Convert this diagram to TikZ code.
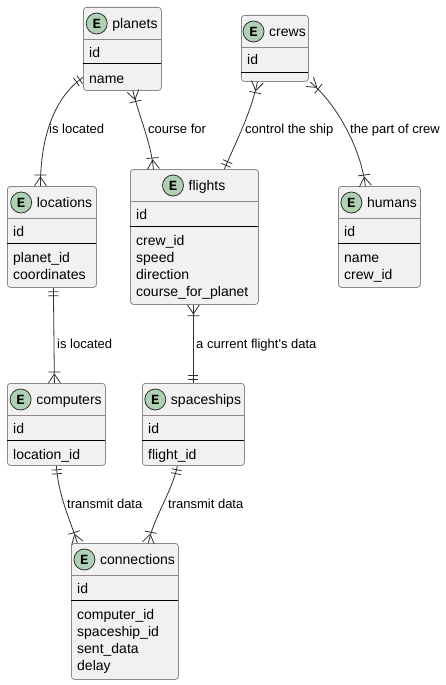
\documentclass[tikz,border=0pt]{standalone}
\usepackage{fontspec}
\setmainfont{Liberation Sans}
\newfontfamily\emono{Liberation Mono}
\usetikzlibrary{decorations.markings,calc}
\definecolor{boxfill}{HTML}{F1F1F1}
\definecolor{boxline}{HTML}{8A8A8A}
\definecolor{egreen}{HTML}{ADD1B2}
\definecolor{lnk}{HTML}{303030}
\tikzset{
  entbox/.style={draw=boxline, fill=boxfill, line width=0.8pt, rounded corners=3pt, inner sep=0pt},
  sepline/.style={draw=boxline, line width=0.8pt},
  idsep/.style={draw=black, line width=1pt},
  ecirc/.style={circle, draw=lnk, fill=egreen, line width=0.8pt, minimum size=21pt, inner sep=0pt, font=\emono\bfseries\fontsize{14}{14}\selectfont},
  etitle/.style={font=\fontsize{14}{16}\selectfont, inner sep=0pt},
  efield/.style={anchor=base west, font=\fontsize{14}{16}\selectfont, inner sep=0pt},
  rlabel/.style={anchor=base west, font=\fontsize{13}{15}\selectfont, inner sep=0pt},
  link/.style={draw=lnk, line width=0.8pt},
  crowS/.style={postaction={decorate, decoration={markings, mark=at position 0 with {\draw[link] (9,0) -- (0,6) (9,0) -- (0,-6) (11,-6) -- (11,6);}}}},
  crowE/.style={postaction={decorate, decoration={markings, mark=at position 0.99999 with {\draw[link] (-9,0) -- (0,6) (-9,0) -- (0,-6) (-11,-6) -- (-11,6);}}}},
  oneS/.style={postaction={decorate, decoration={markings, mark=at position 0 with {\draw[link] (4,-5) -- (4,5) (8,-5) -- (8,5);}}}},
  oneE/.style={postaction={decorate, decoration={markings, mark=at position 0.99999 with {\draw[link] (-4,-5) -- (-4,5) (-8,-5) -- (-8,5);}}}},
}
% #1 name, #2 left, #3 top, #4 width, #5 height, #6 title
\newcommand\erentity[6]{%
  \node[entbox, anchor=north west, minimum width=#4pt, minimum height=#5pt] (#1) at (#2,#3) {};
  \draw[sepline] (#2,#3+32) -- (#2+#4,#3+32);
  \draw[idsep] (#2,#3+57) -- (#2+#4,#3+57);
  \node[etitle, anchor=base] (#1-t) at (#2+#4/2+13,#3+21.5) {#6};
  \node[ecirc] (#1-c) at ($(#1-t.base west)+(-15.5,-5)$) {E};
  \node[efield] (#1-id) at (#2+6,#3+50) {id};
}
% #1 name, #2 left, #3 top, #4 list
\newcommand\erfields[4]{%
  \foreach \fld [count=\i] in {#4} {\node[efield] (#1-f\i) at (#2+6,#3+76+17.3*\i-17.3) {\fld};}
}
\begin{document}
\begin{tikzpicture}[x=1pt,y=-1pt]
\useasboundingbox (0,0) rectangle (446,685);
\fill[white] (0,0) rectangle (446,685);

\erentity{planets}{83}{7}{78}{83}{planets}
\erfields{planets}{83}{7}{name}
\erentity{crews}{241}{15}{67}{66}{crews}
\erentity{locations}{7}{186}{89}{101}{locations}
\erfields{locations}{7}{186}{planet\_id,coordinates}
\erentity{flights}{130}{169}{128}{135}{flights}
\erfields{flights}{130}{169}{crew\_id,speed,direction,course\_for\_planet}
\erentity{humans}{338}{186}{82}{101}{humans}
\erfields{humans}{338}{186}{name,crew\_id}
\erentity{computers}{7}{383}{98}{82}{computers}
\erfields{computers}{7}{383}{location\_id}
\erentity{spaceships}{142}{383}{102}{82}{spaceships}
\erfields{spaceships}{142}{383}{flight\_id}
\erentity{connections}{71}{543}{107}{136}{connections}
\erfields{connections}{71}{543}{computer\_id,spaceship\_id,sent\_data,delay}

% connectors
\draw[link,oneS,crowE] ([yshift=-28.5pt]planets.west) .. controls +(-33,23) and +(0,-40) .. ([xshift=-11.5pt]locations.north);
\draw[link,crowS,crowE] ([xshift=10.5pt]planets.south) .. controls +(6,25) and +(-2,-25) .. ([xshift=-41pt]flights.north);
\draw[link,crowS,oneE] ([xshift=-17.5pt]crews.south) .. controls +(-6,30) and +(12,-28) .. ([xshift=30pt]flights.north);
\draw[link,crowS,crowE] ([xshift=1pt]crews.south east) .. controls +(25,20) and +(-5,-40) .. ([xshift=-14pt]humans.north);
\draw[link,oneS,crowE] ([xshift=1.5pt]locations.south) -- ([xshift=-2pt]computers.north);
\draw[link,crowS,oneE] ([xshift=-1pt]flights.south) -- (spaceships.north);
\draw[link,oneS,crowE] (computers.south) .. controls +(2,30) and +(-8,-25) .. ([xshift=-47.5pt]connections.north);
\draw[link,oneS,crowE] ([xshift=-16pt]spaceships.south) .. controls +(-5,25) and +(5,-25) .. ([xshift=23.5pt]connections.north);

% labels
\node[rlabel] (l1) at (49,133) {is located};
\node[rlabel] (l2) at (148,133) {course for};
\node[rlabel] (l3) at (245,133) {control the ship};
\node[rlabel] (l4) at (350,133) {the part of crew};
\node[rlabel] (l5) at (57,348) {is located};
\node[rlabel] (l6) at (196,348) {a current flight\textquotesingle s data};
\node[rlabel] (l7) at (67,508) {transmit data};
\node[rlabel] (l8) at (168,508) {transmit data};
\end{tikzpicture}
\end{document}
